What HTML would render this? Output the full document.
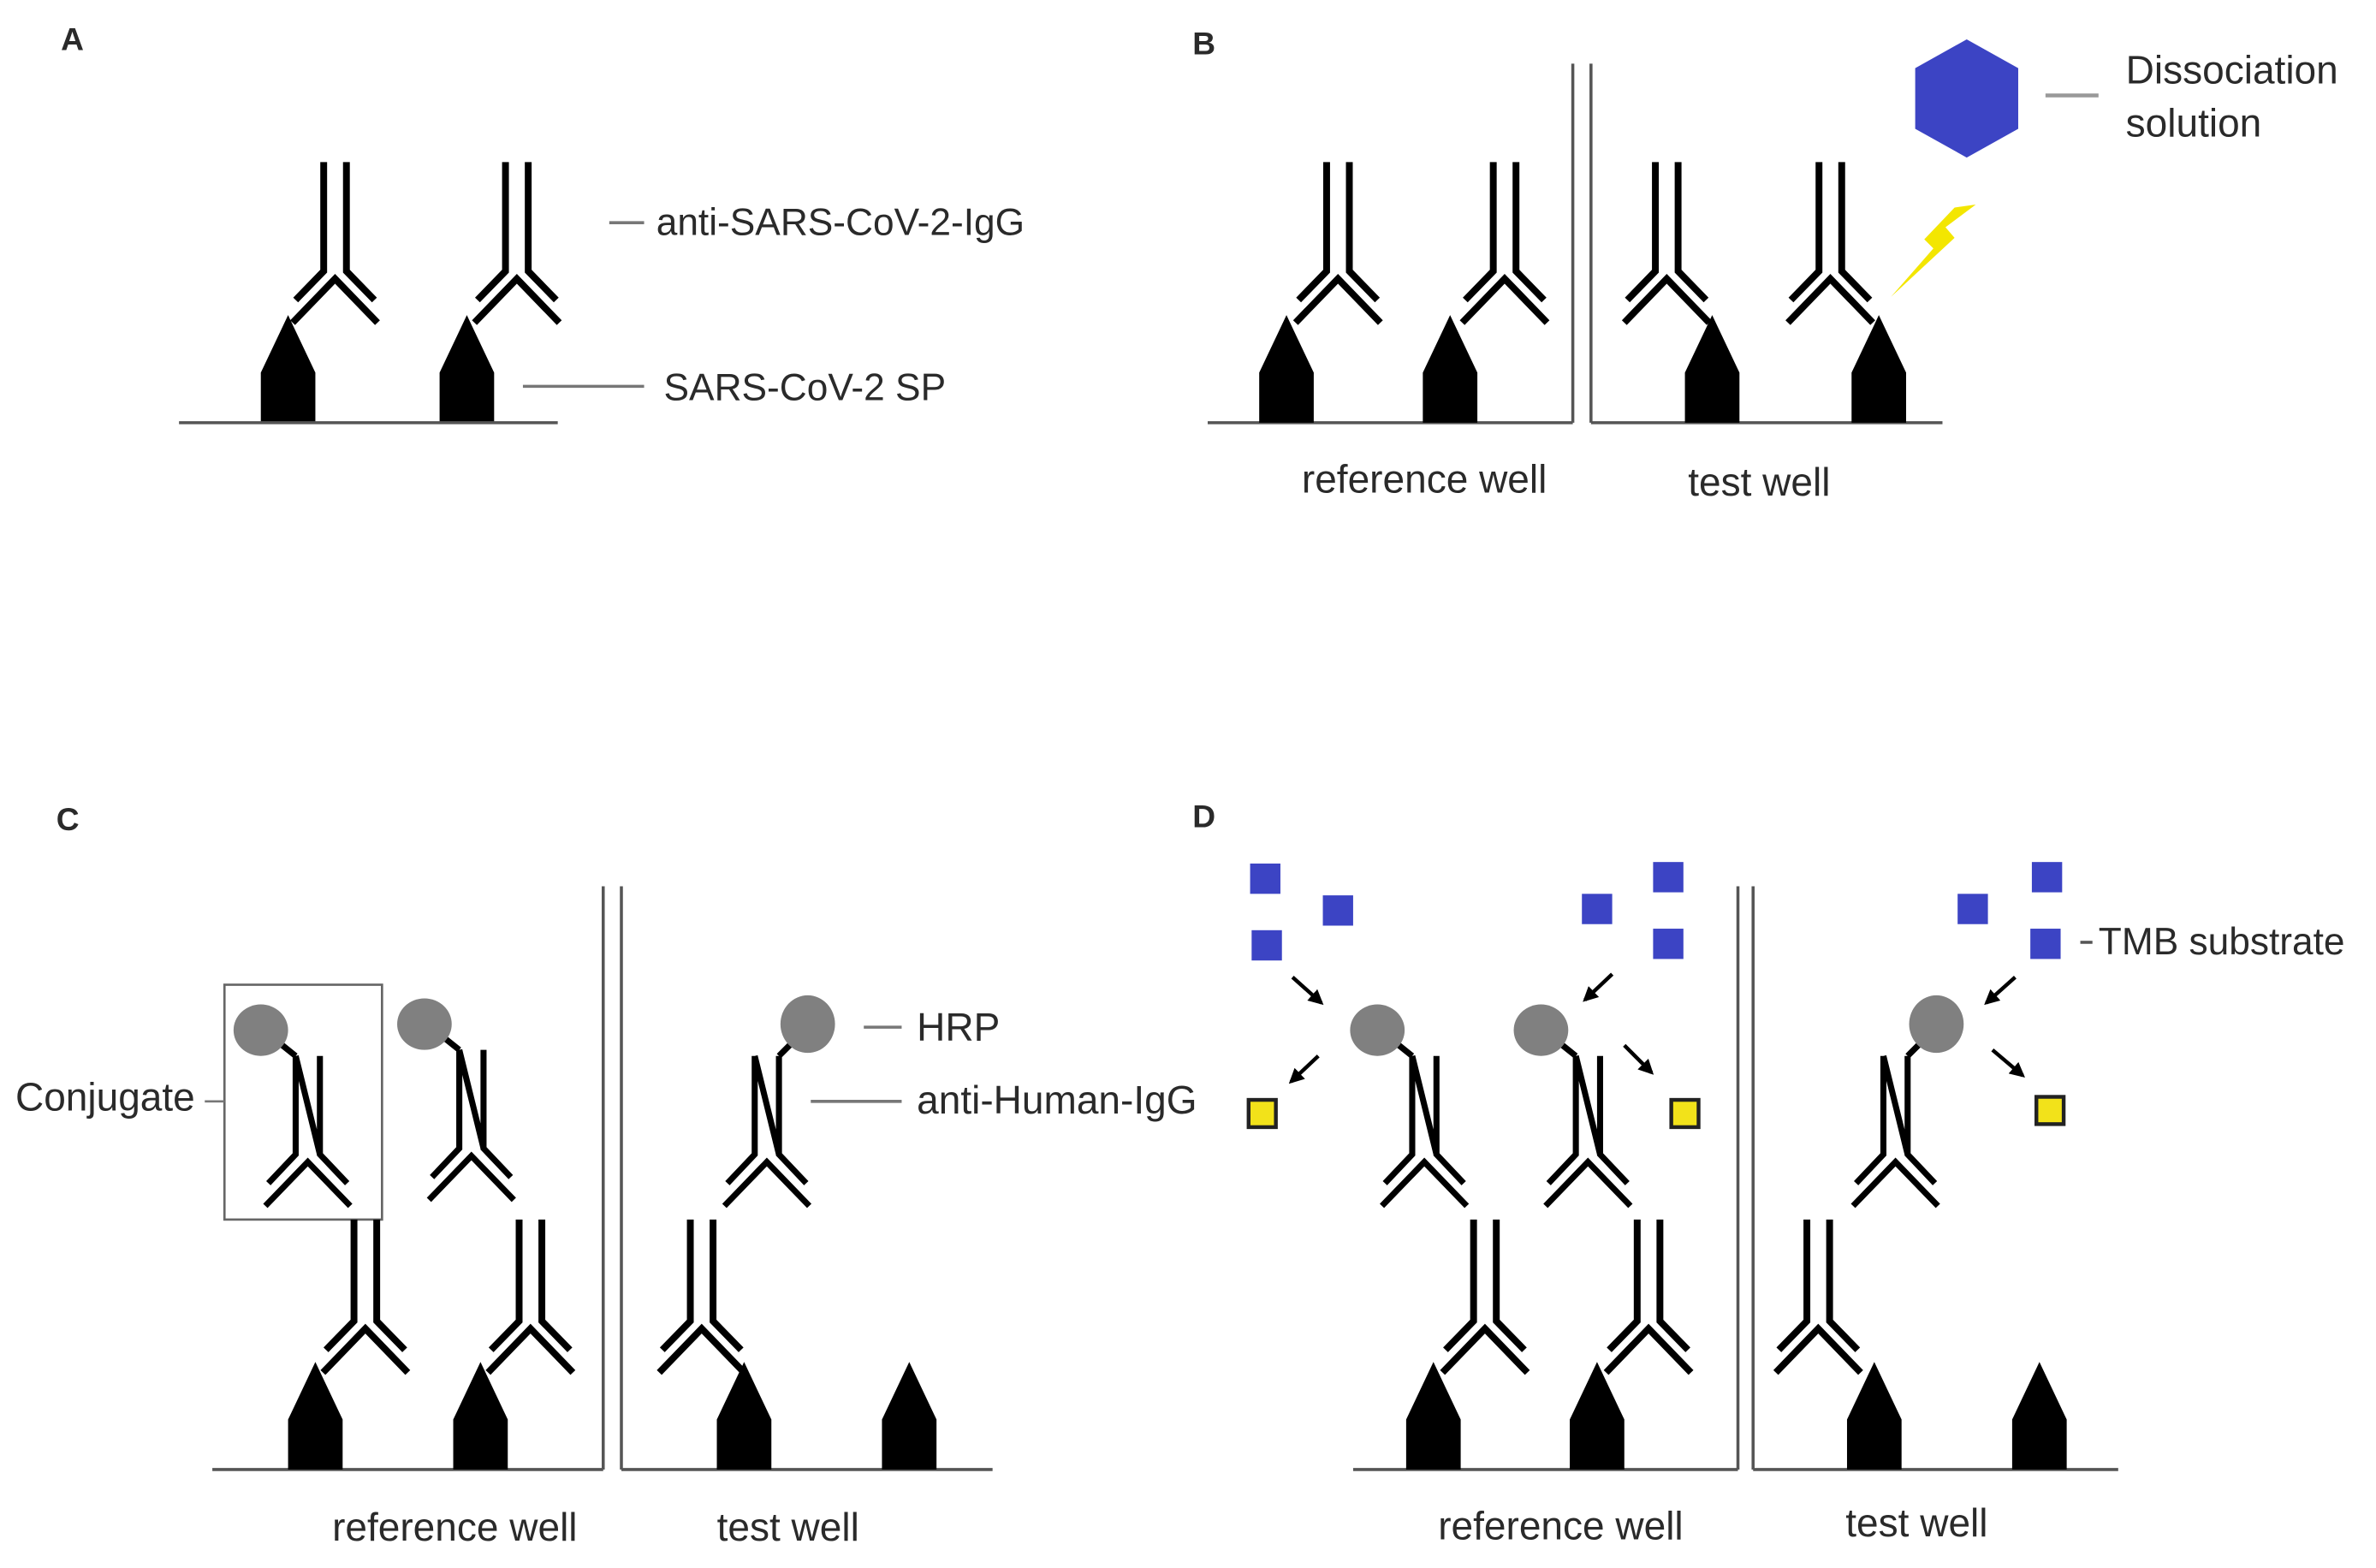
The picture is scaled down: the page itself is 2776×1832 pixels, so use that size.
<!DOCTYPE html>
<html><head><meta charset="utf-8"><style>
html,body{margin:0;padding:0;background:#fff;}
svg{display:block;}
text{font-family:"Liberation Sans",sans-serif;fill:#2a2a2a;}
</style></head><body>
<svg width="2776" height="1832" viewBox="0 0 1568 1035" xmlns="http://www.w3.org/2000/svg">
<defs>
<g id="ab" fill="none" stroke="#000" stroke-width="4.5">
<path d="M-7.5,0 V72 L-26,91 M7.5,0 V72 L26,91 M-28,106 L0,77 L28,106"/>
</g>
<g id="ab2" fill="none" stroke="#000" stroke-width="4.5">
<path d="M-7.5,0 V67 L-26,86 M7.5,0 V67 L26,86 M-28,101 L0,72 L28,101"/>
</g>
<g id="cjL">
<path d="M-8,0 V65 L-26,84 M8,0 V65 L26,84 M-8,0 L8,65 M-28,99 L0,70 L28,99 M-8,0 L-18,-8" fill="none" stroke="#000" stroke-width="4"/>
<ellipse cx="-31" cy="-17" rx="18" ry="17" fill="#808080"/>
</g>
<g id="cjR">
<path d="M-8,0 V65 L-26,84 M8,0 V65 L26,84 M-8,0 L8,65 M-28,99 L0,70 L28,99 M8,0 L16,-8" fill="none" stroke="#000" stroke-width="4"/>
<ellipse cx="27" cy="-21" rx="18" ry="19" fill="#808080"/>
</g>
<polygon id="ag" points="0,0 18,38 18,71 -18,71 -18,38" fill="#000"/>
<marker id="ar" viewBox="0 0 10 10" refX="8" refY="5" markerWidth="4" markerHeight="4" orient="auto"><path d="M0,0 L10,5 L0,10 z" fill="#000"/></marker>
</defs>

<!-- Panel A -->
<text x="40" y="33" font-size="21" font-weight="bold">A</text>
<use href="#ab" x="221" y="107"/>
<use href="#ab" x="341" y="107"/>
<use href="#ag" x="190" y="208"/>
<use href="#ag" x="308" y="208"/>
<line x1="118" y1="279" x2="368" y2="279" stroke="#555" stroke-width="2"/>
<line x1="402" y1="147" x2="425" y2="147" stroke="#777" stroke-width="2"/>
<text x="433" y="155" font-size="25">anti-SARS-CoV-2-IgG</text>
<line x1="345" y1="255" x2="425" y2="255" stroke="#777" stroke-width="2"/>
<text x="438" y="264" font-size="25">SARS-CoV-2 SP</text>

<!-- Panel B -->
<text x="787" y="36" font-size="21" font-weight="bold">B</text>
<line x1="797" y1="279" x2="1038" y2="279" stroke="#555" stroke-width="2"/>
<line x1="1050" y1="279" x2="1282" y2="279" stroke="#555" stroke-width="2"/>
<line x1="1038" y1="42" x2="1038" y2="279" stroke="#555" stroke-width="2"/>
<line x1="1050" y1="42" x2="1050" y2="279" stroke="#555" stroke-width="2"/>
<use href="#ab" x="883" y="107"/>
<use href="#ab" x="993" y="107"/>
<use href="#ab" x="1100" y="107"/>
<use href="#ab" x="1208" y="107"/>
<use href="#ag" x="849" y="208"/>
<use href="#ag" x="957" y="208"/>
<use href="#ag" x="1130" y="208"/>
<use href="#ag" x="1240" y="208"/>
<text x="940" y="325" font-size="26" text-anchor="middle">reference well</text>
<text x="1161" y="327" font-size="26" text-anchor="middle">test well</text>
<polygon points="1298,26 1332,45 1332,85 1298,104 1264,85 1264,45" fill="#3c44c4"/>
<line x1="1350" y1="63" x2="1385" y2="63" stroke="#999" stroke-width="2.5"/>
<text x="1403" y="55" font-size="26">Dissociation</text>
<text x="1403" y="90" font-size="26">solution</text>
<polygon points="1304,135 1284,150 1290,157 1248,196 1276,164 1270,158 1290,137" fill="#f3e600"/>

<!-- Panel C -->
<text x="37" y="548" font-size="21" font-weight="bold">C</text>
<line x1="140" y1="970" x2="398" y2="970" stroke="#555" stroke-width="2"/>
<line x1="410" y1="970" x2="655" y2="970" stroke="#555" stroke-width="2"/>
<line x1="398" y1="585" x2="398" y2="970" stroke="#555" stroke-width="2"/>
<line x1="410" y1="585" x2="410" y2="970" stroke="#555" stroke-width="2"/>
<rect x="148" y="650" width="104" height="155" fill="none" stroke="#666" stroke-width="1.5"/>
<line x1="135" y1="727" x2="148" y2="727" stroke="#777" stroke-width="1.5"/>
<text x="10" y="733" font-size="26">Conjugate</text>
<use href="#cjL" x="203" y="697"/>
<use href="#cjL" x="311" y="693"/>
<use href="#cjR" x="506" y="697"/>
<use href="#ab2" x="241" y="805"/>
<use href="#ab2" x="350" y="805"/>
<use href="#ab2" x="463" y="805"/>
<use href="#ag" x="208" y="899"/>
<use href="#ag" x="317" y="899"/>
<use href="#ag" x="491" y="899"/>
<use href="#ag" x="600" y="899"/>
<line x1="570" y1="678" x2="595" y2="678" stroke="#777" stroke-width="2"/>
<text x="605" y="687" font-size="26">HRP</text>
<line x1="535" y1="727" x2="595" y2="727" stroke="#777" stroke-width="2"/>
<text x="605" y="735" font-size="26">anti-Human-IgG</text>
<text x="300" y="1017" font-size="26" text-anchor="middle">reference well</text>
<text x="520" y="1017" font-size="26" text-anchor="middle">test well</text>

<!-- Panel D -->
<text x="787" y="546" font-size="21" font-weight="bold">D</text>
<line x1="893" y1="970" x2="1147" y2="970" stroke="#555" stroke-width="2"/>
<line x1="1157" y1="970" x2="1398" y2="970" stroke="#555" stroke-width="2"/>
<line x1="1147" y1="585" x2="1147" y2="970" stroke="#555" stroke-width="2"/>
<line x1="1157" y1="585" x2="1157" y2="970" stroke="#555" stroke-width="2"/>
<use href="#cjL" x="940" y="697"/>
<use href="#cjL" x="1048" y="697"/>
<use href="#cjR" x="1251" y="697"/>
<use href="#ab2" x="980" y="805"/>
<use href="#ab2" x="1088" y="805"/>
<use href="#ab2" x="1200" y="805"/>
<use href="#ag" x="946" y="899"/>
<use href="#ag" x="1054" y="899"/>
<use href="#ag" x="1237" y="899"/>
<use href="#ag" x="1346" y="899"/>
<g fill="#3c44c4">
<rect x="825" y="570" width="20" height="20"/>
<rect x="873" y="591" width="20" height="20"/>
<rect x="826" y="614" width="20" height="20"/>
<rect x="1044" y="590" width="20" height="20"/>
<rect x="1091" y="569" width="20" height="20"/>
<rect x="1091" y="613" width="20" height="20"/>
<rect x="1292" y="590" width="20" height="20"/>
<rect x="1341" y="569" width="20" height="20"/>
<rect x="1340" y="613" width="20" height="20"/>
</g>
<g fill="#f2e21a" stroke="#222" stroke-width="2.5">
<rect x="824" y="726" width="18" height="18"/>
<rect x="1103" y="726" width="18" height="18"/>
<rect x="1344" y="724" width="18" height="18"/>
</g>
<g stroke="#000" stroke-width="2.5" marker-end="url(#ar)">
<line x1="853" y1="645" x2="872" y2="662"/>
<line x1="870" y1="697" x2="852" y2="714"/>
<line x1="1064" y1="643" x2="1046" y2="660"/>
<line x1="1072" y1="690" x2="1090" y2="708"/>
<line x1="1330" y1="645" x2="1311" y2="662"/>
<line x1="1315" y1="693" x2="1335" y2="710"/>
</g>
<line x1="1373" y1="622" x2="1381" y2="622" stroke="#555" stroke-width="2"/>
<text x="1385" y="630" font-size="25">TMB substrate</text>
<text x="1030" y="1016" font-size="26" text-anchor="middle">reference well</text>
<text x="1265" y="1014" font-size="26" text-anchor="middle">test well</text>
</svg>
</body></html>
